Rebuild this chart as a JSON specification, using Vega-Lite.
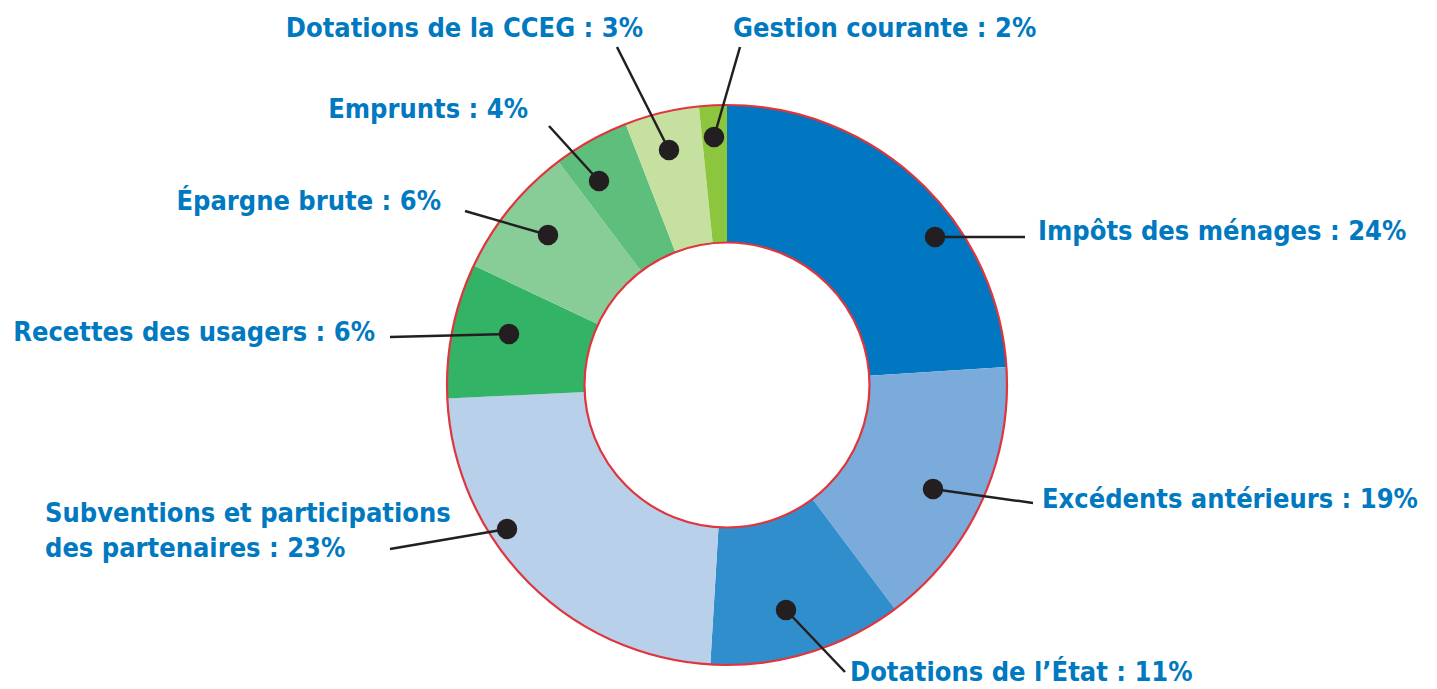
{
  "$schema": "https://vega.github.io/schema/vega-lite/v6.json",
  "width": 1437,
  "height": 689,
  "autosize": {"type": "fit", "contains": "padding"},
  "padding": 0,
  "background": "white",
  "config": {"view": {"stroke": null}},
  "datasets": {
    "postes": [
      {"poste": "Impôts des ménages", "label": "Impôts des ménages : 24%", "part": 24.0, "ordre": 1, "dot_x": 74.29, "dot_y": 52.86, "end_x": 106.43, "end_y": 52.86, "lab_x": 111.07, "lab_y": 54.64, "cote": "droite"},
      {"poste": "Excédents antérieurs", "label": "Excédents antérieurs : 19%", "part": 15.8, "ordre": 2, "dot_x": 73.57, "dot_y": -37.14, "end_x": 109.29, "end_y": -42.14, "lab_x": 112.5, "lab_y": -41.07, "cote": "droite"},
      {"poste": "Dotations de l'État", "label": "Dotations de l’État : 11%", "part": 11.2, "ordre": 3, "dot_x": 21.07, "dot_y": -80.36, "end_x": 42.14, "end_y": -102.5, "lab_x": 43.93, "lab_y": -102.86, "cote": "droite"},
      {"poste": "Subventions et participations des partenaires", "label": "Subventions et participations\ndes partenaires : 23%", "part": 23.3, "ordre": 4, "dot_x": -78.57, "dot_y": -51.43, "end_x": -120.36, "end_y": -58.57, "lab_x": -243.57, "lab_y": -46.07, "cote": "droite"},
      {"poste": "Recettes des usagers", "label": "Recettes des usagers : 6%", "part": 7.8, "ordre": 5, "dot_x": -77.86, "dot_y": 18.21, "end_x": -120.36, "end_y": 17.14, "lab_x": -125.71, "lab_y": 18.57, "cote": "gauche"},
      {"poste": "Épargne brute", "label": "Épargne brute : 6%", "part": 7.7, "ordre": 6, "dot_x": -63.93, "dot_y": 53.57, "end_x": -93.57, "end_y": 62.14, "lab_x": -102.14, "lab_y": 65.36, "cote": "gauche"},
      {"poste": "Emprunts", "label": "Emprunts : 4%", "part": 4.4, "ordre": 7, "dot_x": -45.71, "dot_y": 72.86, "end_x": -63.57, "end_y": 92.5, "lab_x": -71.07, "lab_y": 98.21, "cote": "gauche"},
      {"poste": "Dotations de la CCEG", "label": "Dotations de la CCEG : 3%", "part": 4.3, "ordre": 8, "dot_x": -20.71, "dot_y": 83.93, "end_x": -39.29, "end_y": 120.71, "lab_x": -30.0, "lab_y": 127.14, "cote": "gauche"},
      {"poste": "Gestion courante", "label": "Gestion courante : 2%", "part": 1.6, "ordre": 9, "dot_x": -4.64, "dot_y": 88.57, "end_x": 4.64, "end_y": 120.71, "lab_x": 2.14, "lab_y": 127.14, "cote": "droite"}
    ]
  },
  "data": {"name": "postes"},
  "resolve": {"scale": {"x": "shared", "y": "shared"}},
  "layer": [
    {
      "mark": {"type": "arc", "outerRadius": 280, "innerRadius": 142.5, "stroke": null},
      "encoding": {
        "x": {"datum": 0, "type": "quantitative", "scale": {"domain": [-259.643, 253.571], "nice": false, "zero": false}, "axis": null},
        "y": {"datum": 0, "type": "quantitative", "scale": {"domain": [-108.571, 137.5], "nice": false, "zero": false}, "axis": null},
        "theta": {"field": "part", "type": "quantitative", "stack": true},
        "order": {"field": "ordre", "type": "quantitative"},
        "color": {
          "field": "poste", "type": "nominal", "legend": null,
          "scale": {
            "domain": ["Impôts des ménages", "Excédents antérieurs", "Dotations de l'État", "Subventions et participations des partenaires", "Recettes des usagers", "Épargne brute", "Emprunts", "Dotations de la CCEG", "Gestion courante"],
            "range": ["#0077C0", "#7BABDA", "#318ECD", "#B8D0EA", "#33B365", "#88CC98", "#5EBE7B", "#C6E0A0", "#8CC63F"]
          }
        }
      }
    },
    {
      "data": {"values": [{"anneau": "contour"}]},
      "mark": {"type": "arc", "outerRadius": 280, "innerRadius": 142.5, "theta": 0, "theta2": 6.2832, "fill": null, "filled": false, "stroke": "#E0353D", "strokeWidth": 2.2},
      "encoding": {
        "x": {"datum": 0, "type": "quantitative"},
        "y": {"datum": 0, "type": "quantitative"}
      }
    },
    {
      "mark": {"type": "rule", "stroke": "#231F20", "strokeWidth": 2.5},
      "encoding": {
        "x": {"field": "dot_x", "type": "quantitative"},
        "y": {"field": "dot_y", "type": "quantitative"},
        "x2": {"field": "end_x"},
        "y2": {"field": "end_y"}
      }
    },
    {
      "mark": {"type": "circle", "size": 420, "color": "#231F20", "opacity": 1},
      "encoding": {
        "x": {"field": "dot_x", "type": "quantitative"},
        "y": {"field": "dot_y", "type": "quantitative"}
      }
    },
    {
      "transform": [{"filter": "datum.cote === 'droite'"}],
      "mark": {"type": "text", "align": "left", "baseline": "middle", "font": "DejaVu Sans Condensed", "fontWeight": "bold", "fontSize": 27, "color": "#0079C1", "lineBreak": "\n", "lineHeight": 35},
      "encoding": {
        "x": {"field": "lab_x", "type": "quantitative"},
        "y": {"field": "lab_y", "type": "quantitative"},
        "text": {"field": "label"}
      }
    },
    {
      "transform": [{"filter": "datum.cote === 'gauche'"}],
      "mark": {"type": "text", "align": "right", "baseline": "middle", "font": "DejaVu Sans Condensed", "fontWeight": "bold", "fontSize": 27, "color": "#0079C1"},
      "encoding": {
        "x": {"field": "lab_x", "type": "quantitative"},
        "y": {"field": "lab_y", "type": "quantitative"},
        "text": {"field": "label"}
      }
    }
  ]
}
